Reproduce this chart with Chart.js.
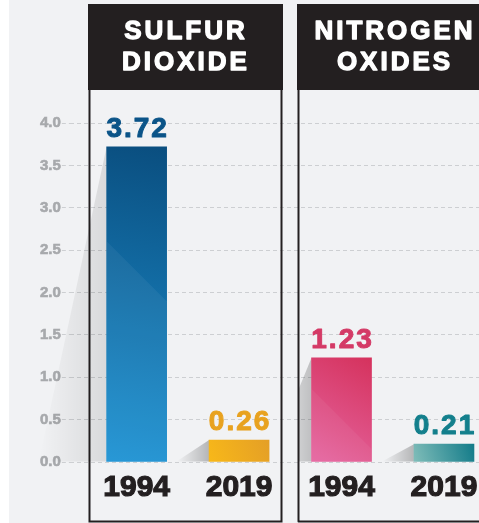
<!DOCTYPE html>
<html>
<head>
<meta charset="utf-8">
<script src="https://cdn.jsdelivr.net/npm/chart.js@4.4.0/dist/chart.umd.min.js"></script>
<style>
html, body { margin: 0; padding: 0; background: #f1f2f4; overflow: hidden; }
#wrap { width: 479px; height: 523px; }
</style>
</head>
<body>
<div id="wrap"><canvas id="chart" width="479" height="523"></canvas></div>
<script>
// data
const pollutants = [['SULFUR', 'DIOXIDE'], ['NITROGEN', 'OXIDES']];
const years = ['1994', '2019'];
const sulfurDioxide = [3.72, 0.26];
const nitrogenOxides = [1.23, 0.21];
const yTicks = [0, 0.5, 1, 1.5, 2, 2.5, 3, 3.5, 4];

// one bar per year per pollutant, left to right
const barLabels = years.concat(years);
const barValues = sulfurDioxide.concat(nitrogenOxides);

const gradStops = [
    ['#1d93d4', '#0a4e7f'],
    ['#f8b819', '#e49f26'],
    ['#e566a1', '#d5325d'],
    ['#80bdb9', '#127b89']
];
const valueColors = ['#0b5488', '#e8a21f', '#d43a66', '#137f8c'];
const ink = '#231f20';
const font = 'Liberation Sans';

// header boxes [left, width] and how far left each bar's shadow may reach
const boxes = [[88, 195], [297, 190]];
const shadowClip = [0, 0, 299, 299];

function barGradient(c) {
    const chart = c.chart;
    const i = c.dataIndex;
    if (!chart.chartArea || i === undefined) return gradStops[0][0];
    const x = chart.scales.x.getPixelForValue(i);
    const top = chart.scales.y.getPixelForValue(barValues[i]);
    const base = chart.scales.y.getPixelForValue(0);
    const g = chart.ctx.createLinearGradient(x - 30, base, x + 30, top);
    g.addColorStop(0, gradStops[i][0]);
    g.addColorStop(1, gradStops[i][1]);
    return g;
}

// page background + white strip on the left
const backdrop = {
    id: 'backdrop',
    beforeDraw(chart) {
        const ctx = chart.ctx;
        ctx.save();
        ctx.fillStyle = '#f1f2f4';
        ctx.fillRect(0, 0, chart.width, chart.height);
        ctx.fillStyle = '#ffffff';
        ctx.fillRect(0, 0, 9, chart.height);
        ctx.restore();
    }
};

// black headers, panel outlines and bar shadows
const panels = {
    id: 'panels',
    beforeDatasetsDraw(chart) {
        const ctx = chart.ctx;
        ctx.save();
        boxes.forEach((b, n) => {
            ctx.fillStyle = ink;
            ctx.fillRect(b[0], 4, b[1], 86);
            ctx.strokeStyle = ink;
            ctx.lineWidth = 2;
            ctx.strokeRect(b[0] + 1.5, 89, b[1] - 3, 432.5);
            ctx.fillStyle = '#ffffff';
            ctx.strokeStyle = '#ffffff';
            ctx.lineWidth = 1.3;
            ctx.lineJoin = 'round';
            ctx.font = 'bold 26px "' + font + '"';
            ctx.letterSpacing = '3px';
            ctx.textAlign = 'center';
            ctx.textBaseline = 'alphabetic';
            const cx = b[0] + 98;
            pollutants[n].forEach((line, j) => {
                ctx.fillText(line, cx, 39 + j * 31);
                ctx.strokeText(line, cx, 39 + j * 31);
            });
        });

        const meta = chart.getDatasetMeta(0);
        meta.data.forEach((el, i) => {
            const left = el.x - el.width / 2;
            const h = el.base - el.y;
            const k = 30 + 0.12 * h;
            const a = Math.max(0.08, 0.26 - h * 0.0005);
            const g = ctx.createLinearGradient(left, 0, left - k, 0);
            g.addColorStop(0, 'rgba(0,0,0,' + a + ')');
            g.addColorStop(1, 'rgba(0,0,0,0)');
            ctx.save();
            ctx.beginPath();
            ctx.rect(shadowClip[i], 0, chart.width, chart.height);
            ctx.clip();
            ctx.fillStyle = g;
            ctx.beginPath();
            ctx.moveTo(left, el.y);
            ctx.lineTo(left, el.base);
            ctx.lineTo(left - k, el.base);
            ctx.closePath();
            ctx.fill();
            ctx.restore();
        });
        ctx.restore();
    }
};

// light diagonal sheen on the tall bars + numbers above the bars
const valueLabels = {
    id: 'valueLabels',
    afterDatasetsDraw(chart) {
        const ctx = chart.ctx;
        const meta = chart.getDatasetMeta(0);
        ctx.save();
        meta.data.forEach((el) => {
            const h = el.base - el.y;
            if (h < 60) return;
            const left = el.x - el.width / 2;
            const right = el.x + el.width / 2;
            const y0 = el.y + h * 0.3;
            ctx.fillStyle = 'rgba(255,255,255,0.05)';
            ctx.beginPath();
            ctx.moveTo(left, y0);
            ctx.lineTo(right, y0 + el.width);
            ctx.lineTo(right, el.base);
            ctx.lineTo(left, el.base);
            ctx.closePath();
            ctx.fill();
        });

        ctx.font = 'bold 28px "' + font + '"';
        ctx.letterSpacing = '2px';
        ctx.textAlign = 'center';
        ctx.textBaseline = 'alphabetic';
        ctx.lineWidth = 1;
        ctx.lineJoin = 'round';
        meta.data.forEach((el, i) => {
            ctx.fillStyle = valueColors[i];
            ctx.strokeStyle = valueColors[i];
            ctx.fillText(barValues[i].toFixed(2), el.x + 1, el.y - 10);
            ctx.strokeText(barValues[i].toFixed(2), el.x + 1, el.y - 10);
        });
        ctx.restore();
    }
};

new Chart(document.getElementById('chart'), {
    type: 'bar',
    data: {
        datasets: [{
            data: barValues.map((v, i) => ({ x: i, y: v })),
            backgroundColor: barGradient,
            borderWidth: 0,
            barThickness: 60
        }]
    },
    options: {
        responsive: false,
        animation: false,
        layout: { padding: { top: 123, left: 39, right: 0, bottom: 9 } },
        plugins: {
            legend: { display: false },
            tooltip: { enabled: false }
        },
        scales: {
            x: {
                type: 'linear',
                offset: false,
                min: -0.652,
                max: 3.342,
                afterBuildTicks: (axis) => { axis.ticks = barLabels.map((_, i) => ({ value: i })); },
                // the year labels never reach the edges, so keep the plot full width
                afterFit: (axis) => { axis.paddingLeft = 0; axis.paddingRight = 0; },
                grid: { display: false, drawTicks: false },
                border: { display: false },
                ticks: {
                    autoSkip: false,
                    maxRotation: 0,
                    padding: 8,
                    color: ink,
                    textStrokeColor: ink,
                    textStrokeWidth: 1.2,
                    font: { family: font, size: 30, weight: 'bold' },
                    callback: (v) => barLabels[v]
                }
            },
            y: {
                min: 0,
                max: 4,
                afterBuildTicks: (axis) => { axis.ticks = yTicks.map((v) => ({ value: v })); },
                grid: {
                    color: '#cdcfd2',
                    lineWidth: 1,
                    tickLength: 8,
                    tickColor: '#cdcfd2',
                    tickBorderDash: [4, 3]
                },
                border: { display: false, dash: [4, 3] },
                ticks: {
                    padding: 1,
                    color: '#a7a9ac',
                    textStrokeColor: '#a7a9ac',
                    textStrokeWidth: 0.6,
                    font: { family: font, size: 15, weight: 'bold' },
                    callback: (v) => v.toFixed(1)
                }
            }
        }
    },
    plugins: [backdrop, panels, valueLabels]
});
</script>
</body>
</html>
